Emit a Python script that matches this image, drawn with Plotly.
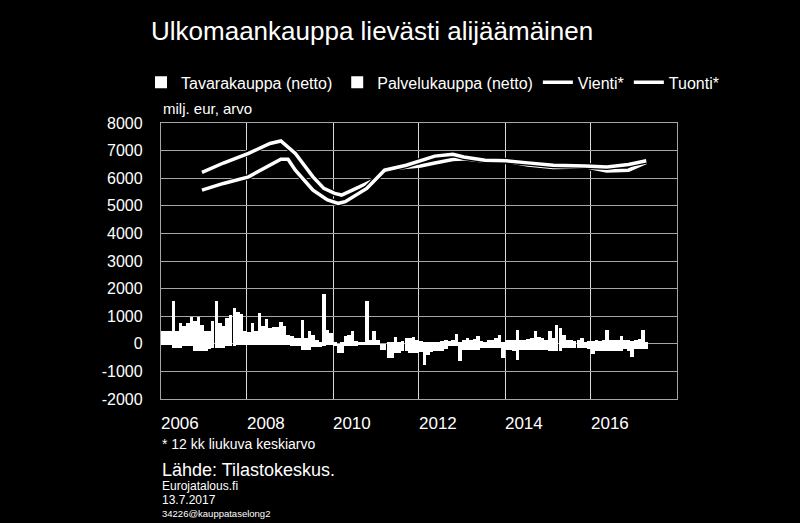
import pandas as pd
import plotly.graph_objects as go

# ---- data ----
months = pd.date_range("2006-01-01", periods=136, freq="MS")

tavarakauppa = [
    475, 475, 450, 1555, 450, 750, 630, 750, 965, 810, 965, 690,
    450, 450, 835, 1555, 750, 630, 930, 1030, 1315, 1170, 1075, 450,
    415, 750, 450, 1110, 630, 905, 570, 595, 595, 785, 630, 330,
    270, 210, 210, 850, 210, 450, 330, 150, 30, 1805, 510, 390,
    30, 0, 30, 270, 330, 475, 90, 70, 70, 1555, 150, 475,
    150, 0, 0, 30, 30, 235, 30, 115, 210, 210, 250, 120,
    100, 80, 60, 50, 60, 80, 100, 120, 100, 130, 370, 80,
    150, 210, 150, 160, 270, 100, 80, 120, 140, 200, 330, 60,
    120, 150, 140, 490, 150, 120, 170, 200, 450, 250, 210, 150,
    450, 200, 690, 570, 330, 150, 120, 100, 150, 210, 80, 100,
    90, 120, 100, 130, 510, 150, 120, 140, 300, 120, 150, 100,
    150, 180, 510, 60,
]
palvelukauppa = [
    -30, -30, -30, -150, -150, -150, -90, -90, -90, -270, -270, -270,
    -270, -175, -150, -150, -150, -150, -90, -90, -90, -20, -20, -20,
    -20, -50, -50, -50, -50, -50, -50, -30, -30, -30, -30, -30,
    -90, -90, -90, -210, -210, -210, -125, -125, -125, -90, -30, -30,
    -90, -330, -330, -90, -90, -90, -90, -30, -30, -30, -30, -30,
    -30, -210, -210, -510, -510, -330, -330, -270, -270, -330, -330, -330,
    -300, -750, -400, -300, -270, -270, -270, -200, -90, -90, -90, -610,
    -210, -210, -210, -210, -210, -150, -150, -150, -150, -150, -150, -510,
    -210, -210, -250, -570, -210, -210, -210, -210, -210, -210, -210, -210,
    -270, -270, -270, -270, -150, -150, -150, -150, -150, -150, -150, -200,
    -355, -270, -270, -270, -270, -270, -270, -270, -270, -200, -250, -475,
    -200, -200, -200, -200,
]

vienti_dates = ["2006-12-15", "2007-06-15", "2008-01-15", "2008-07-15", "2008-10-15",
                "2009-02-15", "2009-07-15", "2009-10-15", "2010-01-15", "2010-03-15",
                "2010-06-15", "2010-12-15", "2011-03-15", "2011-09-15", "2012-01-15",
                "2012-05-15", "2012-10-15", "2013-01-15", "2013-07-15", "2014-01-15",
                "2014-07-15", "2015-02-15", "2015-11-15", "2016-05-15", "2016-11-15",
                "2017-04-15"]
vienti = [6210, 6550, 6900, 7260, 7350, 6900, 6050, 5630, 5450, 5390, 5570, 5930,
          6320, 6410, 6440, 6550, 6680, 6700, 6610, 6610, 6480, 6390, 6410, 6265,
          6290, 6575]

tuonti_dates = ["2006-12-15", "2007-06-15", "2008-01-15", "2008-06-15", "2008-10-15",
                "2008-12-15", "2009-02-15", "2009-07-15", "2009-11-15", "2010-02-15",
                "2010-04-15", "2010-10-15", "2011-03-15", "2011-09-15", "2012-01-15",
                "2012-05-15", "2012-10-15", "2013-01-15", "2013-07-15", "2014-01-15",
                "2014-07-15", "2015-02-15", "2015-11-15", "2016-05-15", "2016-11-15",
                "2017-04-15"]
tuonti = [5570, 5810, 6050, 6410, 6690, 6690, 6290, 5570, 5210, 5090, 5150, 5630,
          6290, 6470, 6650, 6800, 6870, 6770, 6650, 6630, 6555, 6470, 6440, 6410,
          6500, 6630]

year_labels = ["2006", "2008", "2010", "2012", "2014", "2016"]
label_pos = ["2006-06-10", "2008-06-10", "2010-06-10", "2012-06-10", "2014-06-10", "2016-06-10"]
grid_pos = ["2008-01-01", "2010-01-01", "2012-01-01", "2014-01-01", "2016-01-01"]
y_vals = [-2000, -1000, 0, 1000, 2000, 3000, 4000, 5000, 6000, 7000, 8000]
y_labels = ["-2000", "-1000", "0", "1000", "2000", "3000", "4000", "5000", "6000", "7000", "8000"]

FONT = "Liberation Sans, Arial, sans-serif"
WHITE = "#ffffff"

fig = go.Figure()
fig.add_trace(go.Bar(x=months, y=tavarakauppa, name="Tavarakauppa (netto)",
                     marker=dict(color=WHITE, line=dict(width=0)),
                     xperiod="M1", xperiodalignment="middle"))
fig.add_trace(go.Bar(x=months, y=palvelukauppa, name="Palvelukauppa (netto)",
                     marker=dict(color=WHITE, line=dict(width=0)),
                     xperiod="M1", xperiodalignment="middle"))
fig.add_trace(go.Scatter(x=vienti_dates, y=vienti, mode="lines", showlegend=False,
                         line=dict(color="#000000", width=6), hoverinfo="skip"))
fig.add_trace(go.Scatter(x=vienti_dates, y=vienti, mode="lines", name="Vienti*",
                         line=dict(color=WHITE, width=3.5)))
fig.add_trace(go.Scatter(x=tuonti_dates, y=tuonti, mode="lines", showlegend=False,
                         line=dict(color="#000000", width=6), hoverinfo="skip"))
fig.add_trace(go.Scatter(x=tuonti_dates, y=tuonti, mode="lines", name="Tuonti*",
                         line=dict(color=WHITE, width=3.5)))

PL, PR, PT, PB = 161, 677, 122.7, 399.5
W, H = 800, 523


def px_x(px):
    return (px - PL) / (PR - PL)


def px_y(py):
    return (PB - py) / (PB - PT)


annotations = [
    dict(text="milj. eur, arvo", x=px_x(161), y=px_y(108), size=15),
    dict(text="* 12 kk liukuva keskiarvo", x=px_x(160), y=px_y(445), size=14),
    dict(text="Lähde: Tilastokeskus.", x=px_x(160), y=px_y(471), size=18),
    dict(text="Eurojatalous.fi", x=px_x(160), y=px_y(487), size=12),
    dict(text="13.7.2017", x=px_x(160), y=px_y(501), size=12),
    dict(text="34226@kauppataselong2", x=px_x(160), y=px_y(514), size=9.5),
]

fig.update_layout(
    width=W, height=H,
    paper_bgcolor="#000000", plot_bgcolor="#000000",
    margin=dict(l=PL, r=W - PR, t=PT, b=H - PB, pad=0),
    barmode="relative", bargap=0,
    font=dict(family=FONT, color=WHITE),
    title=dict(text="Ulkomaankauppa lievästi alijäämäinen", xref="container", yref="container",
               x=151 / W, y=1 - 31 / H, xanchor="left", yanchor="middle",
               font=dict(size=26, color=WHITE, family=FONT)),
    showlegend=True,
    legend=dict(orientation="h", x=px_x(141), y=px_y(65), xanchor="left", yanchor="top",
                font=dict(size=16, color=WHITE, family=FONT), bgcolor="rgba(0,0,0,0)",
                itemwidth=30, tracegroupgap=0, traceorder="normal"),
    xaxis=dict(type="date", range=["2006-01-01", "2018-01-01"],
               tickmode="array", tickvals=label_pos, ticktext=year_labels,
               showgrid=False, ticks="", tickfont=dict(size=17, color=WHITE, family=FONT),
               ticklabelstandoff=8,
               showline=True, linecolor="#a6a6a6", linewidth=1.3, mirror=True,
               minor=dict(tickmode="array", tickvals=grid_pos, showgrid=True,
                          gridcolor="#d9d9d9", gridwidth=1, ticks=""),
               zeroline=False, fixedrange=True),
    yaxis=dict(range=[-2000, 8000], tickmode="array", tickvals=y_vals, ticktext=y_labels,
               showgrid=True, gridcolor="#a6a6a6", gridwidth=1.3, ticks="",
               tickfont=dict(size=16, color=WHITE, family=FONT),
               ticklabelstandoff=14,
               showline=True, linecolor="#a6a6a6", linewidth=1.3, mirror=True,
               zeroline=False, fixedrange=True),
    annotations=[dict(text=a["text"], x=a["x"], y=a["y"], xref="paper", yref="paper",
                      xanchor="left", yanchor="middle", showarrow=False,
                      font=dict(size=a["size"], color=WHITE, family=FONT))
                 for a in annotations],
)

fig.write_html(
    "out.html",
    config={"displayModeBar": False},
    post_script="document.body.style.margin='0';document.body.style.overflow='hidden';"
                "document.body.style.background='#000';",
)
